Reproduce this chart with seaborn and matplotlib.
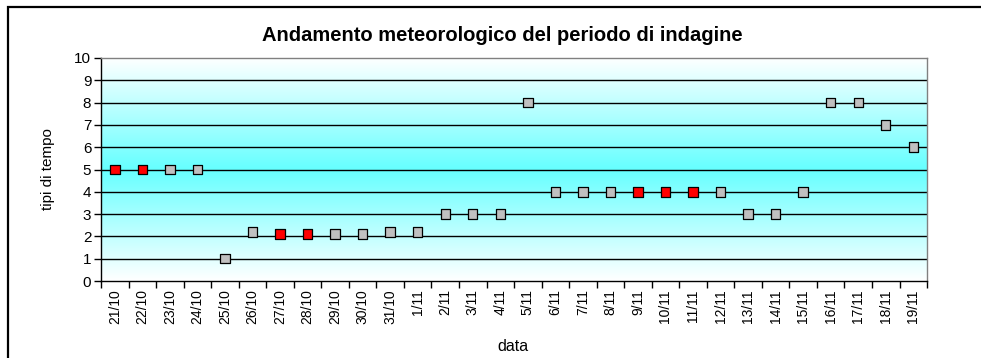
import numpy as np
import pandas as pd
import matplotlib
matplotlib.use("Agg")
import matplotlib.pyplot as plt
from matplotlib.colors import LinearSegmentedColormap
from matplotlib.patches import Rectangle
import seaborn as sns

# Daily weather type over the survey period
dates = ["21/10", "22/10", "23/10", "24/10", "25/10", "26/10", "27/10", "28/10",
         "29/10", "30/10", "31/10", "1/11", "2/11", "3/11", "4/11", "5/11",
         "6/11", "7/11", "8/11", "9/11", "10/11", "11/11", "12/11", "13/11",
         "14/11", "15/11", "16/11", "17/11", "18/11", "19/11"]
tipo = [5, 5, 5, 5, 1, 2.2, 2.1, 2.1, 2.1, 2.1, 2.2, 2.2, 3, 3, 3, 8,
        4, 4, 4, 4, 4, 4, 4, 3, 3, 4, 8, 8, 7, 6]
# Days of sampling (red markers)
campionamento = [1, 1, 0, 0, 0, 0, 1, 1, 0, 0, 0, 0, 0, 0, 0, 0,
                 0, 0, 0, 1, 1, 1, 0, 0, 0, 0, 0, 0, 0, 0]

df = pd.DataFrame({"data": dates, "tipo": tipo,
                   "gruppo": ["rosso" if c else "grigio" for c in campionamento]})

sns.set_theme(style="white")
plt.rcParams["font.family"] = ["Liberation Sans", "DejaVu Sans"]
plt.rcParams["text.color"] = "black"
plt.rcParams["xtick.color"] = "black"
plt.rcParams["ytick.color"] = "black"
plt.rcParams["axes.labelcolor"] = "black"

fig = plt.figure(figsize=(9.81, 3.58), dpi=100)
ax = fig.add_axes([0.103, 0.215, 0.842, 0.623])

# Vertical white-cyan-white gradient for the plot area
cmap = LinearSegmentedColormap.from_list(
    "sfondo", [(0.0, "#FFFFFF"), (0.5, "#66FFFF"), (1.0, "#FFFFFF")])
grad = np.linspace(0, 1, 256).reshape(-1, 1)
ax.imshow(grad, cmap=cmap, aspect="auto", extent=(-0.5, 29.5, 0, 10),
          origin="lower", zorder=0, interpolation="bicubic")

for yv in range(1, 10):
    ax.axhline(yv, color="black", lw=1.0, zorder=1)

sns.scatterplot(data=df, x="data", y="tipo", hue="gruppo",
                palette={"rosso": "#FF0000", "grigio": "#C0C0C0"},
                marker="s", s=46, edgecolor="black", linewidth=0.9,
                legend=False, ax=ax, zorder=3, clip_on=False)

ax.set_xlim(-0.5, 29.5)
ax.set_ylim(0, 10)
ax.set_yticks(range(0, 11))
ax.set_xticks(range(len(dates)))
ax.set_xticklabels(dates, rotation=90, fontsize=10)
ax.set_xticks(np.arange(-0.5, 30, 1), minor=True)
ax.tick_params(axis="x", which="major", length=0, pad=6)
ax.tick_params(axis="x", which="minor", length=5, width=1, color="black",
               direction="out", bottom=True)
ax.tick_params(axis="y", length=5, width=1, color="black", direction="out",
               left=True, labelsize=11, pad=2)

for s in ["left", "bottom"]:
    ax.spines[s].set_color("black")
    ax.spines[s].set_linewidth(1.0)
for s in ["top", "right"]:
    ax.spines[s].set_color("#808080")
    ax.spines[s].set_linewidth(1.0)

ax.set_xlabel("")
ax.set_ylabel("")
fig.text(0.049, 0.527, "tipi di tempo", rotation=90, ha="center", va="center",
         fontsize=11)
fig.text(0.523, 0.033, "data", ha="center", va="center", fontsize=11.5)
fig.text(0.512, 0.902, "Andamento meteorologico del periodo di indagine",
         ha="center", va="center", fontsize=14.5, fontweight="bold")

# Chart frame
fig.patches.append(Rectangle((8 / 981, -0.1), 1.2, 1 - 7 / 358 + 0.1,
                             transform=fig.transFigure, fill=False,
                             edgecolor="black", linewidth=1.6))

fig.savefig("out.png", dpi=100)
